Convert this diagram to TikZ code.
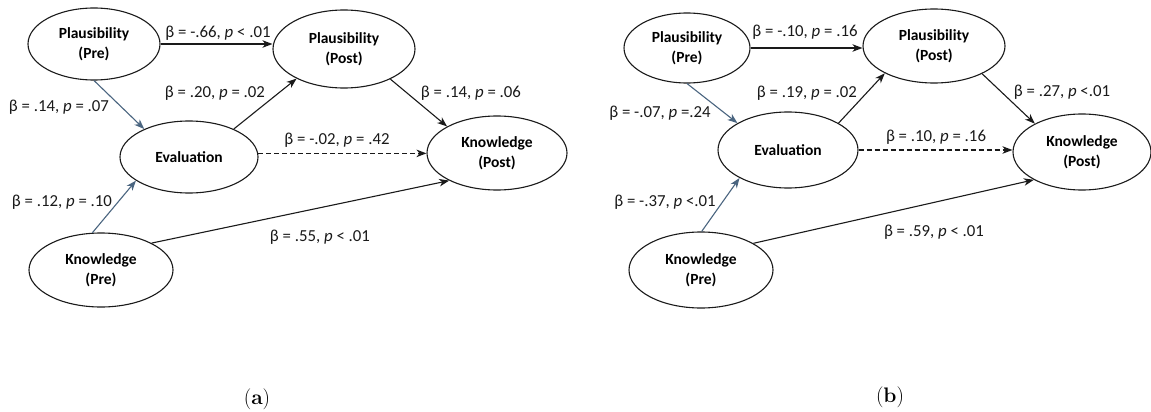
\documentclass[tikz,border=0pt]{standalone}
\usepackage{fontspec}
\newfontfamily\carl{Carlito}
\usetikzlibrary{arrows.meta,shapes.geometric,calc}
\definecolor{bluegray}{HTML}{4A6580}
\definecolor{ink}{HTML}{1A1A1A}
\tikzset{
  var/.style={ellipse,draw=ink,line width=1.1pt,inner sep=0pt,align=center,
    font=\carl\bfseries\fontsize{15.5}{20.5}\selectfont},
  lab/.style={font=\carl\fontsize{16.8}{18}\selectfont,inner sep=0pt,text=ink},
  arr/.style={draw=ink,line width=1.1pt,-{Stealth[length=10pt,width=7.5pt,inset=3pt]}},
  barr/.style={arr,draw=bluegray},
  darr/.style={arr,dash pattern=on 5pt off 3pt},
  captext/.style={font=\fontsize{21}{23}\selectfont,inner sep=0pt}
}
\begin{document}
\begin{tikzpicture}[x=1pt,y=-1pt]
\fill[white] (0,0) rectangle (1151,412);
\useasboundingbox (0,0) rectangle (1151,412);
% ---------------- panel (a)
\node[var,minimum width=132pt,minimum height=72pt] (apl) at (94,44) {Plausibility\\(Pre)};
\node[var,minimum width=142pt,minimum height=78pt] (aplp) at (344,49) {Plausibility\\(Post)};
\node[var,minimum width=138pt,minimum height=72pt] (aev) at (189,157) {Evaluation};
\node[var,minimum width=140pt,minimum height=74pt] (akp) at (497,153) {Knowledge\\(Post)};
\node[var,minimum width=144pt,minimum height=74pt] (akr) at (101,270) {Knowledge\\(Pre)};
\draw[arr] (apl.east) -- (apl.east -| aplp.west);
\draw[barr] (apl.south) -- (aev.148);
\draw[arr] (aev.32) -- (aplp.212);
\draw[darr] (aev.3) -- (aev.3 -| akp.west);
\draw[arr] (aplp.-33) -- (akp.152);
\draw[barr] (akr.103) -- (aev.204);
\draw[arr] (akr.28) -- (akp.210);
\node[lab] (la1) at (218,33) {β = -.66, \textit{p} < .01};
\node[lab] (la2) at (215,93) {β = .20, \textit{p} = .02};
\node[lab] (la3) at (59,107) {β = .14, \textit{p} = .07};
\node[lab] (la4) at (62,202) {β = .12, \textit{p} = .10};
\node[lab] (la5) at (337,140) {β = -.02, \textit{p} = .42};
\node[lab] (la6) at (471,93) {β = .14, \textit{p} = .06};
\node[lab] (la7) at (320,237) {β = .55, \textit{p} < .01};
\node[captext] (capa) at (257,399) {(\textbf{a})};
% ---------------- panel (b)
\node[var,minimum width=126pt,minimum height=70pt] (bpl) at (687,48) {Plausibility\\(Pre)};
\node[var,minimum width=142pt,minimum height=74pt] (bplp) at (934,46) {Plausibility\\(Post)};
\node[var,minimum width=140pt,minimum height=76pt] (bev) at (788,150) {Evaluation};
\node[var,minimum width=138pt,minimum height=76pt] (bkp) at (1082,152) {Knowledge\\(Post)};
\node[var,minimum width=144pt,minimum height=76pt] (bkr) at (701,270) {Knowledge\\(Pre)};
\draw[arr] (bpl.east) -- (bpl.east -| bplp.west);
\draw[barr] (bpl.south) -- (bev.152);
\draw[arr] (bev.28) -- (bplp.209);
\draw[darr] (bev.east) -- (bev.east -| bkp.west);
\draw[arr] (bplp.-30) -- (bkp.149);
\draw[barr] (bkr.89) -- (bev.210);
\draw[arr] (bkr.27) -- (bkp.210);
\node[lab] (lb1) at (805,32) {β = -.10, \textit{p} = .16};
\node[lab] (lb2) at (807,93) {β = .19, \textit{p} = .02};
\node[lab] (lb3) at (660,113) {β = -.07, \textit{p} =.24};
\node[lab] (lb4) at (665,202) {β = -.37, \textit{p} <.01};
\node[lab] (lb5) at (936,137) {β = .10, \textit{p} = .16};
\node[lab] (lb6) at (1062,92) {β = .27, \textit{p} <.01};
\node[lab] (lb7) at (934,232) {β = .59, \textit{p} < .01};
\node[captext] (capb) at (890,397) {(\textbf{b})};
\end{tikzpicture}
\end{document}
